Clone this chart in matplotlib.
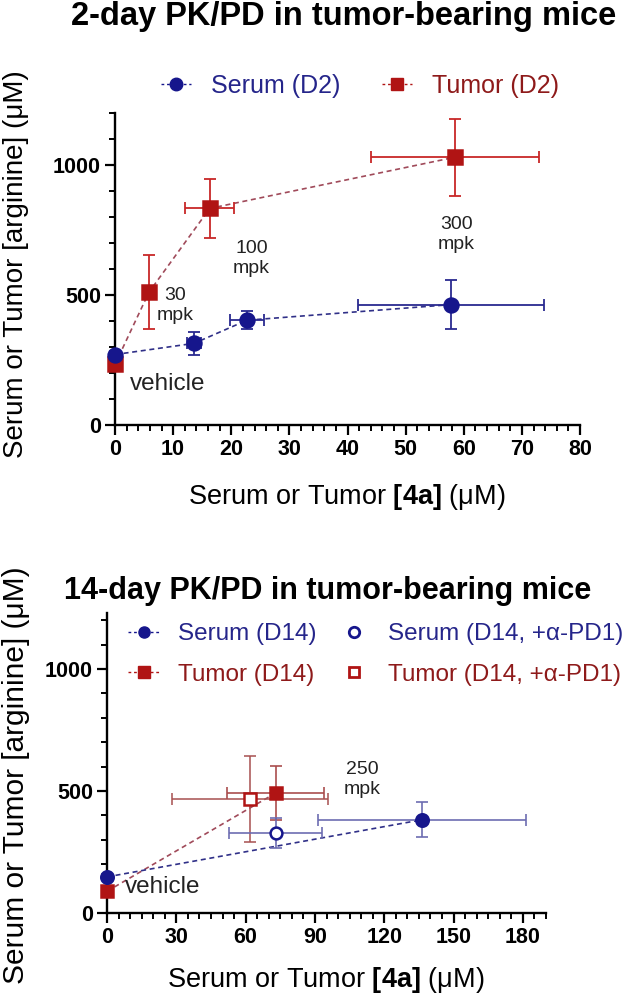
import matplotlib
matplotlib.use("Agg")
import matplotlib.pyplot as plt
from matplotlib.lines import Line2D
from matplotlib.ticker import MultipleLocator

plt.rcParams['font.family'] = ['Liberation Sans', 'DejaVu Sans']
plt.rcParams['mathtext.fontset'] = 'custom'
plt.rcParams['mathtext.rm'] = 'Liberation Sans'
plt.rcParams['mathtext.bf'] = 'Liberation Sans:bold'
plt.rcParams['xtick.labelsize'] = 15.5
plt.rcParams['ytick.labelsize'] = 15.5

# ---------------- data: 2-day ----------------
d2_serum_x = [0, 13.6, 22.7, 57.8]
d2_serum_xerr = [0, 1.2, 3.0, 16.0]
d2_serum_y = [271, 314, 403, 463]
d2_serum_yerr = [12, 44, 34, 94]

d2_tumor_x = [0, 5.85, 16.3, 58.5]
d2_tumor_xerr = [0, 0.8, 4.2, 14.5]
d2_tumor_y = [233, 511, 833, 1030]
d2_tumor_yerr = [12, 142, 115, 148]

d2_dose_labels = ["30\nmpk", "100\nmpk", "300\nmpk"]
d2_dose_label_x = [10.3, 23.5, 58.7]
d2_dose_label_y = [461, 641, 732]

# ---------------- data: 14-day ----------------
d14_serum_x = [0, 136.2]
d14_serum_xerr = [0, 45]
d14_serum_y = [148, 382]
d14_serum_yerr = [10, 72]

d14_tumor_x = [0, 73]
d14_tumor_xerr = [0, 21]
d14_tumor_y = [89, 492]
d14_tumor_yerr = [10, 110]

d14_serum_pd1_x = [73]
d14_serum_pd1_xerr = [20]
d14_serum_pd1_y = [328]
d14_serum_pd1_yerr = [63]

d14_tumor_pd1_x = [61.9]
d14_tumor_pd1_xerr = [33.6]
d14_tumor_pd1_y = [467]
d14_tumor_pd1_yerr = [176]

BLUE = '#16168c'
RED = '#b01414'
BLUE_TXT = '#25258a'
RED_TXT = '#8e1a1a'

W, H = 629, 997
fig = plt.figure(figsize=(W / 100, H / 100), dpi=100)


def rect(l, t, r, b):
    return [l / W, 1 - b / H, (r - l) / W, (b - t) / H]


def style_axes(ax):
    for s in ['top', 'right']:
        ax.spines[s].set_visible(False)
    for s in ['left', 'bottom']:
        ax.spines[s].set_linewidth(1.7)
    ax.tick_params(which='major', direction='out', length=7, width=1.6,
                   pad=3)
    ax.tick_params(which='minor', direction='out', length=4.5, width=1.4)
    for lab in ax.get_xticklabels() + ax.get_yticklabels():
        lab.set_fontweight('bold')
        lab.set_fontsize(15.5)


def series(ax, x, y, xerr, yerr, color, marker, ms, ls, lcolor, ecolor,
           mfc=None, alpha_e=1.0):
    if ls is not None:
        ax.plot(x, y, linestyle=(0, (3, 2.2)), color=lcolor, lw=1.2, zorder=2,
                clip_on=False)
    ax.errorbar(x, y, xerr=xerr, yerr=yerr, fmt='none', ecolor=ecolor,
                elinewidth=1.3, capsize=4.5, capthick=1.3, alpha=alpha_e,
                zorder=3, clip_on=False)
    ax.plot(x, y, linestyle='none', marker=marker, ms=ms,
            mfc=mfc if mfc else color, mec=color, mew=1.8, zorder=4,
            clip_on=False)


# ================= top panel =================
ax1 = fig.add_axes(rect(115, 113, 580, 425))
ax1.set_xlim(0, 80)
ax1.set_ylim(0, 1200)
ax1.xaxis.set_major_locator(MultipleLocator(10))
ax1.xaxis.set_minor_locator(MultipleLocator(2))
ax1.yaxis.set_major_locator(MultipleLocator(500))
ax1.yaxis.set_minor_locator(MultipleLocator(100))

series(ax1, d2_tumor_x, d2_tumor_y, d2_tumor_xerr, d2_tumor_yerr, RED, 's',
       10, '--', '#a04a5a', '#c82828')
series(ax1, d2_serum_x, d2_serum_y, d2_serum_xerr, d2_serum_yerr, BLUE, 'o',
       10, '--', '#303088', '#2a2a90')

for t, x, y in zip(d2_dose_labels, d2_dose_label_x, d2_dose_label_y):
    ax1.text(x, y, t, ha='center', va='center', fontsize=14,
             linespacing=1.25, color='#222222')
ax1.text(2.6, 159, 'vehicle', ha='left', va='center', fontsize=17.5,
         color='#222222')
style_axes(ax1)

h1 = [Line2D([], [], color=BLUE, linestyle=(0, (2, 2)), lw=1.0, marker='o',
             ms=9, mfc=BLUE, mec=BLUE),
      Line2D([], [], color=RED, linestyle=(0, (2, 2)), lw=1.0, marker='s',
             ms=9, mfc=RED, mec=RED)]
fig.legend(h1, ['Serum (D2)', 'Tumor (D2)'], loc='center left',
           bbox_to_anchor=(161 / W, 1 - 86 / H), ncol=2, frameon=False,
           fontsize=18, handlelength=1.2, handletextpad=0.8,
           columnspacing=1.65, borderpad=0, borderaxespad=0,
           labelcolor=[BLUE_TXT, RED_TXT])

fig.text(344 / W, 1 - 25 / H, '2-day PK/PD in tumor-bearing mice',
         ha='center', va='baseline', fontsize=23.5, fontweight='bold')
fig.text(16 / W, 1 - 264 / H, 'Serum or Tumor [arginine] (\u03bcM)',
         rotation=90, ha='center', va='center', fontsize=20)
fig.text(347 / W, 1 - 497 / H, 'Serum or Tumor $\\mathbf{[4a]}$ (\u03bcM)',
         ha='center', va='center', fontsize=19.5)

# ================= bottom panel =================
ax2 = fig.add_axes(rect(107, 613, 546, 913))
ax2.set_xlim(0, 190)
ax2.set_ylim(0, 1230)
ax2.xaxis.set_major_locator(MultipleLocator(30))
ax2.xaxis.set_minor_locator(MultipleLocator(5))
ax2.yaxis.set_major_locator(MultipleLocator(500))
ax2.yaxis.set_minor_locator(MultipleLocator(100))

series(ax2, d14_tumor_x, d14_tumor_y, d14_tumor_xerr, d14_tumor_yerr, RED,
       's', 9, '--', '#a04a5a', '#a84a4a', alpha_e=0.9)
series(ax2, d14_tumor_pd1_x, d14_tumor_pd1_y, d14_tumor_pd1_xerr,
       d14_tumor_pd1_yerr, RED, 's', 8.5, None, None, '#a85050', mfc='white',
       alpha_e=0.85)
series(ax2, d14_serum_pd1_x, d14_serum_pd1_y, d14_serum_pd1_xerr,
       d14_serum_pd1_yerr, BLUE, 'o', 8.5, None, None, '#6a6ab0', mfc='white',
       alpha_e=0.9)
series(ax2, d14_serum_x, d14_serum_y, d14_serum_xerr, d14_serum_yerr, BLUE,
       'o', 9, '--', '#303088', '#6a6ab0', alpha_e=0.9)

ax2.text(110.4, 547, '250\nmpk', ha='center', va='center', fontsize=14,
         linespacing=1.25, color='#222222')
ax2.text(7.8, 108, 'vehicle', ha='left', va='center', fontsize=17.5,
         color='#222222')
style_axes(ax2)

h2 = [Line2D([], [], color=BLUE, linestyle=(0, (2, 2)), lw=1.0, marker='o',
             ms=8, mfc=BLUE, mec=BLUE),
      Line2D([], [], color=RED, linestyle=(0, (2, 2)), lw=1.0, marker='s',
             ms=8, mfc=RED, mec=RED),
      Line2D([], [], linestyle='none', marker='o', ms=7.5, mfc='white',
             mec=BLUE, mew=2),
      Line2D([], [], linestyle='none', marker='s', ms=7.5, mfc='white',
             mec=RED, mew=2)]
fig.legend(h2, ['Serum (D14)', 'Tumor (D14)', 'Serum (D14, +\u03b1-PD1)',
                'Tumor (D14, +\u03b1-PD1)'], loc='upper left',
           bbox_to_anchor=(128 / W, 1 - 623 / H), ncol=2, frameon=False,
           fontsize=17.5, handlelength=1.3, handletextpad=0.75,
           columnspacing=0.9, labelspacing=0.78, borderpad=0,
           borderaxespad=0,
           labelcolor=[BLUE_TXT, RED_TXT, BLUE_TXT, RED_TXT])

fig.text(328 / W, 1 - 599 / H, '14-day PK/PD in tumor-bearing mice',
         ha='center', va='baseline', fontsize=22, fontweight='bold')
fig.text(16 / W, 1 - 775 / H, 'Serum or Tumor [arginine] (\u03bcM)',
         rotation=90, ha='center', va='center', fontsize=21.5)
fig.text(326 / W, 1 - 980 / H, 'Serum or Tumor $\\mathbf{[4a]}$ (\u03bcM)',
         ha='center', va='center', fontsize=19.5)

fig.savefig('out.png', dpi=100)
